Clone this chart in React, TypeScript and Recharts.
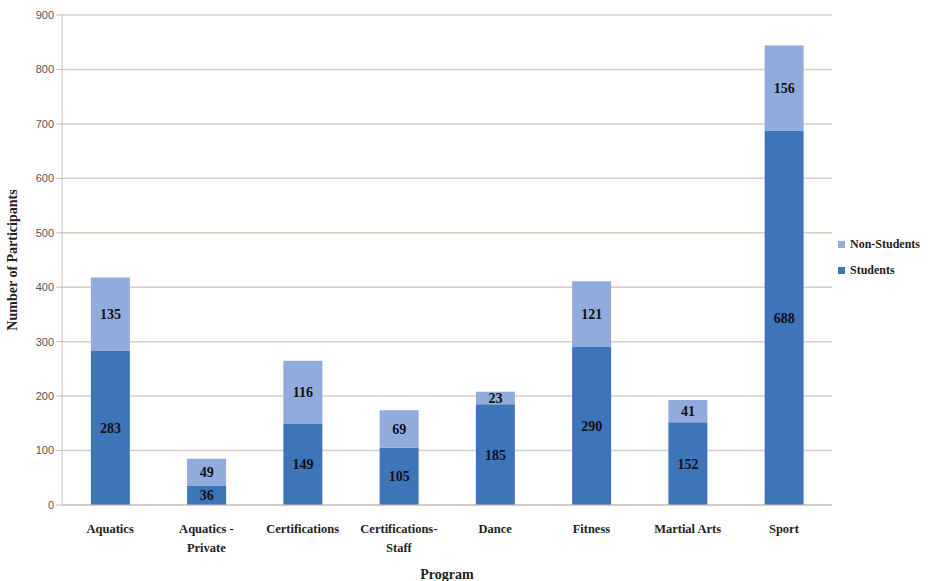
import React from "react";
import { BarChart, Bar, XAxis, YAxis, CartesianGrid, LabelList } from "recharts";

const programs = ["Aquatics", "Aquatics -\nPrivate", "Certifications", "Certifications-\nStaff", "Dance", "Fitness", "Martial Arts", "Sport"];
const students = [283, 36, 149, 105, 185, 290, 152, 688];
const nonStudents = [135, 49, 116, 69, 23, 121, 41, 156];
const yTicks = [0, 100, 200, 300, 400, 500, 600, 700, 800, 900];
const seriesNames = ["Non-Students", "Students"];

const data = programs.map((p, i) => ({ program: p, students: students[i], nonStudents: nonStudents[i] }));

const STUDENT_COLOR = "#3e74b8";
const NON_COLOR = "#91abdc";
const SERIF = "'Liberation Serif', 'Times New Roman', serif";

const XTick = (props: any) => {
  const { x, y, payload } = props;
  const lines = String(payload.value).split("\n");
  return (
    <g transform={`translate(${x},${y})`}>
      {lines.map((l: string, i: number) => (
        <text key={i} x={0} y={20 + i * 19} textAnchor="middle" fontFamily={SERIF} fontWeight="bold" fontSize={12.5} fill="#222">
          {l}
        </text>
      ))}
    </g>
  );
};

export default function App() {
  const legendColors = [NON_COLOR, STUDENT_COLOR];
  return (
    <div style={{ position: "absolute", left: 0, top: 0, width: 946, height: 581, background: "#fff" }}>
      <BarChart
        width={946}
        height={581}
        data={data}
        margin={{ top: 15, right: 114, bottom: 0, left: 0 }}
        barCategoryGap="30%"
      >
        <CartesianGrid vertical={false} stroke="#dcccc0" strokeWidth={1.5} />
        <XAxis
          dataKey="program"
          tick={<XTick />}
          tickLine={false}
          axisLine={{ stroke: "#c8c0b8" }}
          height={76}
          interval={0}
          label={{ value: "Program", position: "insideBottom", offset: 2, fontFamily: SERIF, fontWeight: "bold", fontSize: 14, fill: "#222" }}
        />
        <YAxis
          width={62}
          domain={[0, 900]}
          ticks={yTicks}
          tick={{ fontFamily: "'Liberation Sans', Arial, sans-serif", fontSize: 11, fill: "#555" }}
          tickLine={{ stroke: "#c8c0b8" }}
          axisLine={{ stroke: "#c8c0b8" }}
          label={{ value: "Number of Participants", angle: -90, position: "insideLeft", offset: 12, fontFamily: SERIF, fontWeight: "bold", fontSize: 14, fill: "#222", style: { textAnchor: "middle" } }}
        />
        <Bar dataKey="students" stackId="a" fill={STUDENT_COLOR} isAnimationActive={false} name="Students">
          <LabelList dataKey="students" position="center" fontFamily={SERIF} fontWeight="bold" fontSize={14} fill="#111" />
        </Bar>
        <Bar dataKey="nonStudents" stackId="a" fill={NON_COLOR} isAnimationActive={false} name="Non-Students">
          <LabelList dataKey="nonStudents" position="center" fontFamily={SERIF} fontWeight="bold" fontSize={14} fill="#111" />
        </Bar>
      </BarChart>
      <div style={{ position: "absolute", left: 838, top: 231, fontFamily: SERIF, fontWeight: "bold", fontSize: 12, color: "#222" }}>
        {seriesNames.map((n, i) => (
          <div key={n} style={{ display: "flex", alignItems: "center", height: 26, whiteSpace: "nowrap" }}>
            <span style={{ display: "inline-block", width: 7, height: 7, background: legendColors[i], marginRight: 5 }} />
            {n}
          </div>
        ))}
      </div>
    </div>
  );
}
